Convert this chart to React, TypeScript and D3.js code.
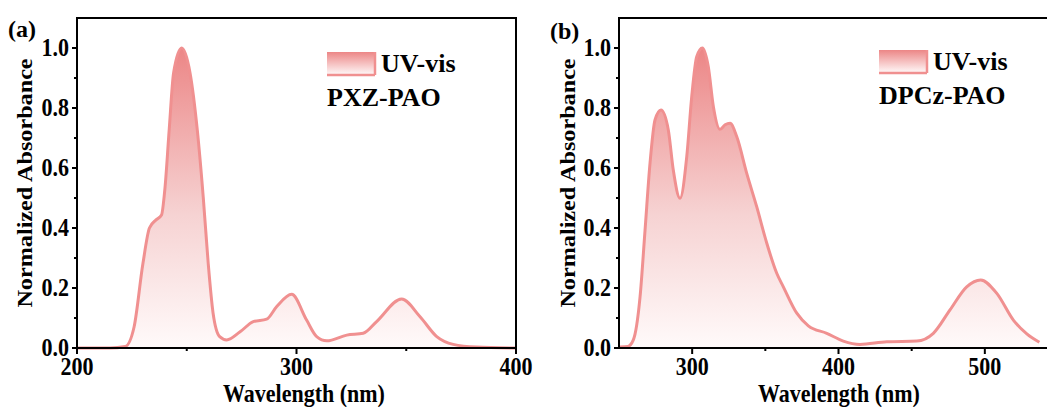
import React from "react";
import * as d3 from "d3";

// panel (a) PXZ-PAO: wavelength (nm) / normalized absorbance
const waveA = [200, 215, 222, 226, 230, 233, 236, 238.5, 240, 242, 244, 247.7, 251.5, 254.8, 257.5, 259.8, 262, 265, 268.2, 274.3, 280.3, 286.4, 291, 297.8, 304.6, 309.2, 313.8, 322.9, 330.4, 336.5, 347.9, 356.3, 363.9, 371.4, 382, 400];
const absA = [0, 0, 0.005, 0.07, 0.28, 0.4, 0.427, 0.443, 0.527, 0.727, 0.917, 1.0, 0.917, 0.727, 0.504, 0.28, 0.116, 0.038, 0.027, 0.054, 0.088, 0.096, 0.138, 0.179, 0.093, 0.038, 0.024, 0.043, 0.049, 0.088, 0.163, 0.104, 0.038, 0.012, 0.003, 0];

// panel (b) DPCz-PAO
const waveB = [250.7, 256, 259.8, 264.4, 267.8, 271.2, 274.6, 278.7, 283.7, 287.1, 291.7, 296.3, 299.7, 303.1, 307, 311, 314.5, 319, 322.5, 325.9, 330.5, 337.3, 344.1, 351, 357.8, 362.3, 371.5, 379.4, 392, 403.3, 414.7, 433, 453.5, 464.8, 476.2, 487.6, 497.2, 508.2, 519.5, 528.7, 537.3];
const absB = [0.003, 0.005, 0.027, 0.171, 0.393, 0.616, 0.76, 0.793, 0.727, 0.593, 0.499, 0.638, 0.838, 0.971, 1.0, 0.938, 0.804, 0.729, 0.744, 0.749, 0.704, 0.582, 0.471, 0.349, 0.249, 0.204, 0.116, 0.074, 0.049, 0.023, 0.012, 0.021, 0.023, 0.049, 0.127, 0.204, 0.227, 0.182, 0.093, 0.047, 0.019];

const yMajor = [0, 0.2, 0.4, 0.6, 0.8, 1.0];
const yMinor = [0.1, 0.3, 0.5, 0.7, 0.9];

const LINE = "#f09090";
const FONT = "'Liberation Serif', 'Times New Roman', serif";
const SY = 1.1; // the figure's text is a little taller than wide

type PanelProps = {
  id: string;
  tag: string;
  name: string;
  xs: number[];
  ys: number[];
  domain: [number, number];
  range: [number, number];
  major: number[];
  minor: number[];
  tagPos: [number, number];
  legendPos: [number, number];
  titleX: number;
  yTitleX: number;
};

function Panel(p: PanelProps) {
  const x = d3.scaleLinear().domain(p.domain).range(p.range);
  const y = d3.scaleLinear().domain([0, 1.1]).range([348, 18]);
  const pts = p.xs.map((w, i) => [w, p.ys[i]] as [number, number]);
  const line = d3.line<[number, number]>().x((d) => x(d[0])).y((d) => y(d[1])).curve(d3.curveMonotoneX);
  const area = d3.area<[number, number]>().x((d) => x(d[0])).y0(y(0)).y1((d) => y(d[1])).curve(d3.curveMonotoneX);
  const [x0, x1] = p.range;
  const [lx, ly] = p.legendPos;

  return (
    <g fontFamily={FONT} fontWeight="bold">
      <defs>
        <linearGradient id={p.id} gradientUnits="userSpaceOnUse" x1="0" y1={y(1)} x2="0" y2={y(0)}>
          <stop offset="0" stopColor="#ec8686" />
          <stop offset="0.55" stopColor="#f6d2d2" />
          <stop offset="1" stopColor="#fffafa" />
        </linearGradient>
        <linearGradient id={p.id + "L"} x1="0" y1="0" x2="0" y2="1">
          <stop offset="0" stopColor="#ec8686" />
          <stop offset="1" stopColor="#fffafa" />
        </linearGradient>
      </defs>
      <path d={area(pts) || ""} fill={`url(#${p.id})`} />
      <path d={line(pts) || ""} fill="none" stroke={LINE} strokeWidth={3} />

      {/* frame */}
      <rect x={x0} y={y(1.1)} width={x1 - x0} height={y(0) - y(1.1)} fill="none" stroke="#000" strokeWidth={2} />

      {/* y ticks */}
      {yMajor.map((v) => (
        <g key={"ym" + v}>
          <line x1={x0 - 5} x2={x0} y1={y(v)} y2={y(v)} stroke="#000" strokeWidth={2} />
          <text transform={`translate(${x0 - 8},${y(v)}) scale(1,${SY})`} dy="0.35em" textAnchor="end" fontSize={22}>{v.toFixed(1)}</text>
        </g>
      ))}
      {yMinor.map((v) => (
        <line key={"yn" + v} x1={x0 - 3} x2={x0} y1={y(v)} y2={y(v)} stroke="#000" strokeWidth={2} />
      ))}

      {/* x ticks */}
      {p.major.map((v) => (
        <g key={"xm" + v}>
          <line x1={x(v)} x2={x(v)} y1={y(0)} y2={y(0) + 6} stroke="#000" strokeWidth={2} />
          <text transform={`translate(${x(v)},375) scale(1,${SY})`} textAnchor="middle" fontSize={22}>{v}</text>
        </g>
      ))}
      {p.minor.map((v) => (
        <line key={"xn" + v} x1={x(v)} x2={x(v)} y1={y(0)} y2={y(0) + 3} stroke="#000" strokeWidth={2} />
      ))}

      <text transform={`translate(${p.titleX},402) scale(1,${SY})`} textAnchor="middle" fontSize={22}>Wavelength (nm)</text>
      <text transform={`translate(${p.yTitleX},183) scale(1,${SY}) rotate(-90)`} textAnchor="middle" fontSize={22}>Normalized Absorbance</text>
      <text x={p.tagPos[0]} y={p.tagPos[1]} fontSize={24}>{p.tag}</text>

      {/* legend */}
      <rect x={lx} y={ly} width={48} height={23} fill={`url(#${p.id}L)`} />
      <line x1={lx} x2={lx + 48} y1={ly + 23} y2={ly + 23} stroke={LINE} strokeWidth={2.5} />
      <line x1={lx + 48} x2={lx + 48} y1={ly} y2={ly + 23} stroke={LINE} strokeWidth={2.5} />
      <text x={lx + 54} y={ly + 20} fontSize={26}>UV-vis</text>
      <text x={lx} y={ly + 54} fontSize={26}>{p.name}</text>
    </g>
  );
}

export default function App() {
  return (
    <svg width={1047} height={407} style={{ position: "absolute", left: 0, top: 0, background: "#fff" }}>
      <Panel
        id="ga" tag="(a)" name="PXZ-PAO" xs={waveA} ys={absA}
        domain={[200, 400]} range={[77, 516]} major={[200, 300, 400]} minor={[250, 350]}
        tagPos={[8, 37]} legendPos={[327, 52]} titleX={304} yTitleX={32}
      />
      <Panel
        id="gb" tag="(b)" name="DPCz-PAO" xs={waveB} ys={absB}
        domain={[250, 550]} range={[619, 1058]} major={[300, 400, 500]} minor={[350, 450]}
        tagPos={[550, 39]} legendPos={[879, 50]} titleX={839} yTitleX={575}
      />
    </svg>
  );
}
